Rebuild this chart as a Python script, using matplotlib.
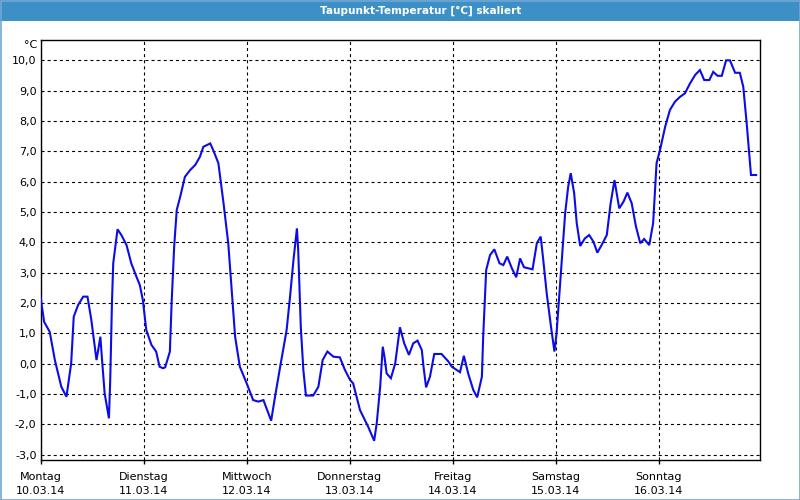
import matplotlib
matplotlib.use("Agg")
import matplotlib.pyplot as plt
from matplotlib.patches import Rectangle
from matplotlib.ticker import FuncFormatter

title = "Taupunkt-Temperatur [°C] skaliert"
day_names = ["Montag", "Dienstag", "Mittwoch", "Donnerstag", "Freitag", "Samstag", "Sonntag"]
day_dates = ["10.03.14", "11.03.14", "12.03.14", "13.03.14", "14.03.14", "15.03.14", "16.03.14"]
day_ticks = [0, 24, 48, 72, 96, 120, 144]
y_ticks = [-3, -2, -1, 0, 1, 2, 3, 4, 5, 6, 7, 8, 9, 10]

# hours since Monday 10.03.14 00:00
hours = [0.0, 0.8, 2.1, 3.3, 4.8, 6.0, 7.1, 7.7, 8.7, 9.9, 10.9, 11.8, 13.0, 13.4, 13.9, 14.3,
         14.9, 15.9, 16.2, 16.6, 16.9, 17.4, 17.9, 18.8, 20.0, 21.1, 22.3, 23.1, 23.8, 24.6,
         25.8, 26.9, 27.7, 28.5,
         29.0, 30.1, 30.5, 31.1, 31.7, 32.5, 33.6, 34.8, 36.0, 37.1, 37.9, 39.5, 40.2, 41.4,
         42.6, 43.7, 44.5, 45.3, 46.4, 48.0, 49.5, 50.7, 51.9, 53.7, 54.6, 55.8,
         57.3, 58.1, 58.9, 59.7, 60.0, 60.6, 61.2, 61.8, 63.5, 64.7, 65.7, 66.8, 68.2, 69.7,
         70.9, 72.1, 72.8, 74.4, 76.3, 77.7, 78.3, 79.1, 79.7, 80.1, 80.6, 81.6, 82.6, 83.7, 84.7,
         85.8, 86.8, 87.8, 88.8, 89.2, 89.8, 90.7, 91.7, 93.4, 95.0, 95.8, 97.7, 98.6, 99.6,
         100.8, 101.7, 102.8, 103.1, 103.8, 104.7, 105.7, 106.9, 107.8, 108.7, 109.8, 110.8,
         111.7, 112.6,
         114.6, 115.6, 116.5, 117.1, 117.9, 118.9, 119.7, 120.2, 121.2, 122.2, 122.9, 123.5,
         124.3, 124.9, 125.7, 126.8, 127.8, 128.8, 129.7, 130.7, 131.9, 132.8, 133.7, 134.8,
         135.8, 136.7, 137.7, 138.7, 139.7,
         140.6, 141.8, 142.7, 143.5, 144.3, 145.5, 146.6, 147.8, 149.0, 150.1, 151.3, 152.5,
         153.6, 154.6, 155.8, 156.7, 157.7, 158.7, 159.7, 160.6, 161.8, 162.9, 163.7, 164.5,
         165.5, 166.7]
dew_point = [2.16, 1.38, 1.05, 0.12, -0.76, -1.09, 0.01, 1.55, 1.93, 2.21, 2.21, 1.44, 0.12, 0.45, 0.89, 0.12,
             -0.98, -1.80, -0.54, 1.99, 3.31, 3.86, 4.43, 4.24, 3.91, 3.31, 2.87, 2.59, 2.10, 1.11,
             0.62, 0.40, -0.10, -0.15,
             -0.12, 0.40, 1.99, 3.86, 5.07, 5.50, 6.16, 6.38, 6.55, 6.82, 7.15, 7.26, 7.04, 6.61,
             5.29, 3.97, 2.43, 0.89, -0.10, -0.65, -1.20, -1.25, -1.20, -1.88, -1.09, -0.10,
             1.11, 2.21, 3.42, 4.46, 3.75, 1.22, -0.21, -1.05, -1.05, -0.76, 0.12, 0.40, 0.23, 0.21,
             -0.21, -0.54, -0.65, -1.53, -2.08, -2.54, -1.96, -0.76, 0.56, 0.23, -0.32, -0.48, 0.01, 1.20, 0.67,
             0.29, 0.67, 0.76, 0.45, -0.10, -0.78, -0.43, 0.32, 0.32, 0.07, -0.10, -0.28, 0.26, -0.32,
             -0.87, -1.11, -0.43, 0.89, 3.09, 3.58, 3.77, 3.31, 3.25, 3.53, 3.14, 2.85,
             3.47, 3.18,
             3.11, 3.97, 4.19, 3.42, 2.32, 1.22, 0.40, 1.00, 2.98, 4.96, 5.83, 6.28,
             5.62, 4.63, 3.88, 4.13, 4.24, 4.02, 3.66, 3.91, 4.24, 5.29, 6.05, 5.12,
             5.34, 5.64, 5.29, 4.52, 3.97,
             4.11, 3.91, 4.63, 6.61, 7.04, 7.81, 8.36, 8.64, 8.80, 8.91, 9.24, 9.52,
             9.68, 9.35, 9.35, 9.62, 9.49, 9.49, 10.0, 10.0, 9.59, 9.59, 9.13, 7.92,
             6.22, 6.22]

W, H = 800, 500
plt.rcParams['font.family'] = ['DejaVu Sans']
plt.rcParams['lines.scale_dashes'] = False
fig = plt.figure(figsize=(8, 5), dpi=100)
fig.patch.set_facecolor('white')

# window frame and title bar
bar_col = '#3c90c6'
fig.patches.append(Rectangle((0, 1 - 21 / H), 1, 21 / H, transform=fig.transFigure,
                             facecolor=bar_col, edgecolor='none', zorder=0))
fig.patches.append(Rectangle((0.5 / W, 0.5 / H), (W - 1) / W, (H - 1) / H, transform=fig.transFigure,
                             facecolor='none', edgecolor='#6fa8d6', linewidth=1.2, zorder=1))
fig.text(320 / W, 1 - 10.5 / H, title, color='white', fontsize=7.6, fontweight='bold',
         ha='left', va='center')

ax = fig.add_axes([40.7 / W, 40 / H, (760 - 40.7) / W, (460 - 40) / H])
ax.set_facecolor('white')
ax.plot(hours, dew_point, color='#0c0ce6', linewidth=1.5, solid_joinstyle='miter', zorder=3)

ax.set_xlim(0, 167.6)
ax.set_ylim(-3.175, 10.67)
ax.set_yticks(y_ticks)
ax.yaxis.set_major_formatter(FuncFormatter(lambda v, p: f"{v:.1f}".replace('.', ',')))
ax.set_xticks(day_ticks)
ax.set_xticklabels([f"{n}\n{d}" for n, d in zip(day_names, day_dates)], linespacing=1.45)
ax.tick_params(axis='y', length=0, pad=3, labelsize=8)
ax.tick_params(axis='x', length=3, width=1, pad=6, labelsize=8, direction='out')
ax.grid(True, color='black', linestyle=(0, (2.2, 2.2)), linewidth=0.8, zorder=1)
for s in ax.spines.values():
    s.set_linewidth(1.0)
    s.set_color('black')

fig.text(37 / W, 1 - 45 / H, '°C', fontsize=8, ha='right', va='center')

fig.savefig('out.png', dpi=100)
